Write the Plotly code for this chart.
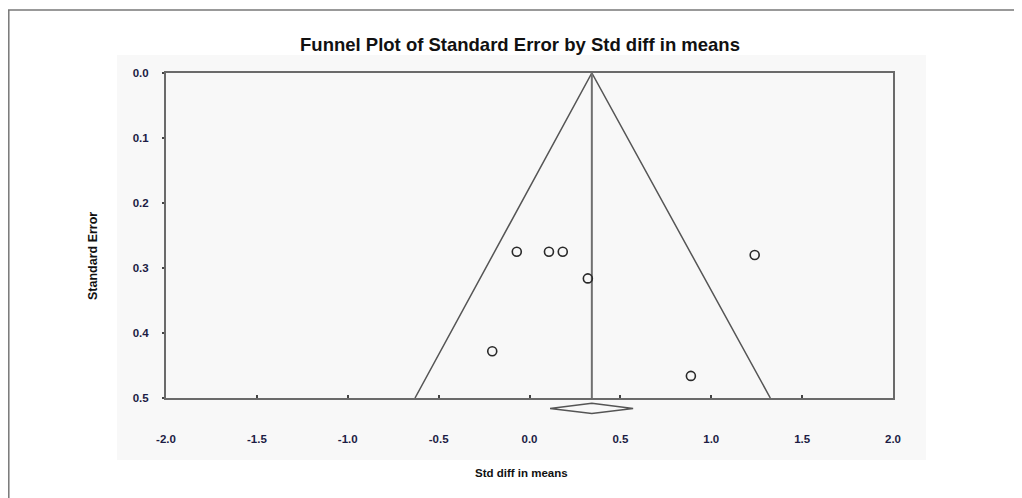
import plotly.graph_objects as go

# ---- data ----
study_smd = [-0.07, 0.107, 0.183, 0.321, -0.205, 1.239, 0.888]
study_se = [0.275, 0.275, 0.275, 0.316, 0.428, 0.280, 0.466]
pooled_mean = 0.343
funnel_x = [-0.63, 0.343, 1.325]
funnel_y = [0.5, 0.0, 0.5]
mean_line_y = [0.0, 0.5]
diamond_x = [0.113, 0.343, 0.57, 0.343, 0.113]
diamond_y = [0.516, 0.508, 0.516, 0.524, 0.516]
x_ticks = [-2.0, -1.5, -1.0, -0.5, 0.0, 0.5, 1.0, 1.5, 2.0]
x_ticklabels = ["-2.0", "-1.5", "-1.0", "-0.5", "0.0", "0.5", "1.0", "1.5", "2.0"]
y_ticks = [0.0, 0.1, 0.2, 0.3, 0.4, 0.5]
y_ticklabels = ["0.0", "0.1", "0.2", "0.3", "0.4", "0.5"]

# page body has an 8px default margin -> work in shifted pixel coordinates
OFF = 8
W, H = 1022 - OFF, 498 - OFF
L = 166 - OFF
T = 73 - OFF
R = W - (893 - OFF)
B = H - (420 - OFF)
pw, ph = W - L - R, H - T - B


def px(x):
    return (x - OFF - L) / pw


def py(y):
    return (H - B - (y - OFF)) / ph


main_bottom = py(398)
font_fam = "Liberation Sans, Arial, sans-serif"

fig = go.Figure()

fig.add_trace(go.Scatter(x=funnel_x, y=funnel_y, mode="lines",
                         line=dict(color="#555555", width=1.5),
                         hoverinfo="skip", showlegend=False))
fig.add_trace(go.Scatter(x=[pooled_mean, pooled_mean], y=mean_line_y, mode="lines",
                         line=dict(color="#707070", width=2),
                         hoverinfo="skip", showlegend=False))
fig.add_trace(go.Scatter(x=study_smd, y=study_se, mode="markers",
                         marker=dict(symbol="circle-open", size=9, color="#2a2a2a",
                                     line=dict(color="#2a2a2a", width=1.6)),
                         cliponaxis=False, showlegend=False))
fig.add_trace(go.Scatter(x=diamond_x, y=diamond_y, mode="lines",
                         line=dict(color="#555555", width=1.5),
                         xaxis="x2", yaxis="y2",
                         hoverinfo="skip", showlegend=False))

tickfont = dict(family=font_fam, size=11.5, color="#1c1c44", weight="bold")

fig.update_layout(
    width=W, height=H,
    margin=dict(l=L, r=R, t=T, b=B, autoexpand=False),
    paper_bgcolor="white",
    plot_bgcolor="rgba(0,0,0,0)",
    title=dict(text="Funnel Plot of Standard Error by Std diff in means",
               x=(520 - OFF) / W, xanchor="center", xref="container",
               y=1 - (45 - OFF) / H, yanchor="middle", yref="container",
               font=dict(family=font_fam, size=18.5, color="#111111", weight="bold")),
    xaxis=dict(range=[-2, 2], domain=[0, 1], anchor="y",
               tickvals=x_ticks, ticktext=x_ticklabels,
               showgrid=False, zeroline=False,
               showline=True, linecolor="#6a6a6a", linewidth=2, mirror=True,
               ticks="inside", ticklen=3, tickcolor="#444444", tickwidth=1.5,
               ticklabelstandoff=29, tickfont=tickfont),
    yaxis=dict(range=[0.5, 0], domain=[main_bottom, 1], anchor="x",
               tickvals=y_ticks, ticktext=y_ticklabels,
               showgrid=False, zeroline=False,
               showline=True, linecolor="#6a6a6a", linewidth=2, mirror=True,
               ticks="outside", ticklen=2, tickcolor="#444444", tickwidth=1.5,
               ticklabelstandoff=11, tickfont=tickfont),
    xaxis2=dict(range=[-2, 2], domain=[0, 1], anchor="y2", visible=False),
    yaxis2=dict(range=[0.5 + 22 / 650, 0.5], domain=[0, main_bottom],
                anchor="x2", visible=False),
    shapes=[
        dict(type="rect", xref="paper", yref="paper",
             x0=px(117), x1=px(926), y0=py(460), y1=py(55),
             fillcolor="#f8f8f8", line=dict(width=0), layer="below"),
        dict(type="line", xref="paper", yref="paper",
             x0=px(8.8), x1=px(8.8), y0=py(10), y1=py(498),
             line=dict(color="#777777", width=1.5)),
        dict(type="line", xref="paper", yref="paper",
             x0=px(8), x1=px(1022), y0=py(10), y1=py(10),
             line=dict(color="#777777", width=1.5)),
    ],
    annotations=[
        dict(text="Std diff in means", xref="paper", yref="paper",
             x=px(521), y=py(473), xanchor="center", yanchor="middle",
             showarrow=False,
             font=dict(family=font_fam, size=11.5, color="#111111", weight="bold")),
        dict(text="Standard Error", xref="paper", yref="paper",
             x=px(93), y=py(256), xanchor="center", yanchor="middle",
             textangle=-90, showarrow=False,
             font=dict(family=font_fam, size=12.5, color="#111111", weight="bold")),
    ],
)

fig.write_html("out.html")
